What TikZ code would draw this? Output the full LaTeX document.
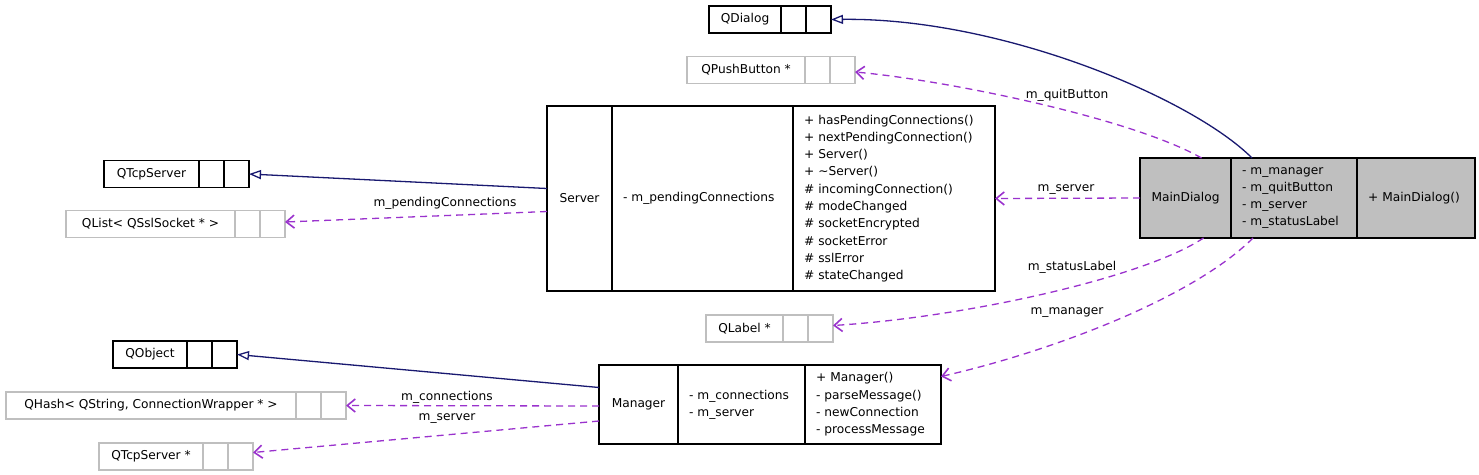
\documentclass[tikz,border=0pt]{standalone}
\usepackage{fontspec}
\setmainfont{DejaVu Sans}
\usetikzlibrary{positioning,arrows.meta}
\definecolor{inheritblue}{HTML}{191970}
\definecolor{usageviolet}{HTML}{9A32CD}
\definecolor{boxgrey}{HTML}{BFBFBF}
\tikzset{
  cell/.style={draw, line width=1.3pt, inner xsep=11pt, inner ysep=0pt, outer sep=0pt, align=left, anchor=west},
  namecell/.style={cell, align=center, inner xsep=0pt},
  extcell/.style={draw=#1, line width=1.3pt, minimum height=27pt, inner sep=0pt, outer sep=0pt, anchor=west},
  inherit/.style={draw=inheritblue, line width=1.3pt, -{Triangle[open, length=12pt, width=9pt]}},
  usage/.style={draw=usageviolet, line width=1.3pt, dash pattern=on 7pt off 5pt, -{Straight Barb[length=8pt, width=13pt, line width=1.6pt]}},
  lbl/.style={inner sep=1pt},
}
\begin{document}
\begin{tikzpicture}[x=1pt,y=-1pt,font=\fontsize{12.2}{17.3}\selectfont]
\useasboundingbox (0,0) rectangle (1479,474);

% external classes: text cell and two empty cells
\foreach \nm/\txt/\x/\y/\w/\col in {
  qdialog/QDialog/709/19.5/72/black,
  qpushbutton/{QPushButton *}/687/70/118/boxgrey,
  qtcpserver/QTcpServer/104/174/95/black,
  qlist/{QList< QSslSocket * >}/66/224/169/boxgrey,
  qlabel/{QLabel *}/706/328.5/77/boxgrey,
  qobject/QObject/113/354.5/74/black,
  qhash/{QHash< QString, ConnectionWrapper * >}/6/405.5/290/boxgrey,
  qtcpptr/{QTcpServer *}/99/456.5/104/boxgrey}
{
  \node[extcell=\col, minimum width=\w pt] (\nm) at (\x,\y) {\txt};
  \node[extcell=\col, minimum width=25pt, right=0pt of \nm] (\nm-a) {};
  \node[extcell=\col, minimum width=25pt, right=0pt of \nm-a] (\nm-b) {};
}

% Server
\node[namecell, minimum width=65pt, minimum height=185pt] (srv) at (547,198.5) {Server};
\node[cell, text width=159pt, minimum height=185pt, right=0pt of srv] (srv-attr) {- m\_pendingConnections};
\node[cell, text width=180pt, minimum height=185pt, right=0pt of srv-attr] (srv-meth)
  {+ hasPendingConnections()\\+ nextPendingConnection()\\+ Server()\\+ \textasciitilde Server()\\%
   \# incomingConnection()\\\# modeChanged\\\# socketEncrypted\\\# socketError\\\# sslError\\\# stateChanged};

% MainDialog
\node[namecell, fill=boxgrey, minimum width=91pt, minimum height=80pt] (md) at (1140,198) {MainDialog};
\node[cell, fill=boxgrey, text width=104pt, minimum height=80pt, right=0pt of md] (md-attr)
  {- m\_manager\\- m\_quitButton\\- m\_server\\- m\_statusLabel};
\node[cell, fill=boxgrey, text width=96pt, minimum height=80pt, right=0pt of md-attr] (md-meth) {+ MainDialog()};

% Manager
\node[namecell, minimum width=79pt, minimum height=79pt] (mgr) at (599,404.5) {Manager};
\node[cell, text width=105pt, minimum height=79pt, right=0pt of mgr] (mgr-attr) {- m\_connections\\- m\_server};
\node[cell, text width=114pt, minimum height=79pt, right=0pt of mgr-attr] (mgr-meth)
  {+ Manager()\\- parseMessage()\\- newConnection\\- processMessage};

% inheritance
\draw[inherit] ([xshift=21pt]md-attr.north west) .. controls +(-60,-60) and +(170,-2) .. (qdialog-b.east);
\draw[inherit] ([yshift=10pt]srv.west) -- (qtcpserver-b.east);
\draw[inherit] ([yshift=17pt]mgr.west) -- (qobject-b.east);

% members
\draw[usage] ([xshift=16pt]md.north) .. controls +(-70,-40) and +(90,8) .. ([yshift=-2pt]qpushbutton-b.east);
\draw[usage] (md.west) -- (srv-meth.east);
\draw[usage] ([xshift=18pt]md.south) .. controls +(-60,40) and +(130,-8) .. ([yshift=3pt]qlabel-b.east);
\draw[usage] ([xshift=22pt]md-attr.south west) .. controls +(-60,60) and +(110,-25) .. ([yshift=28pt]mgr-meth.east);
\draw[usage] ([yshift=-13pt]srv.west) -- ([yshift=2pt]qlist-b.east);
\draw[usage] ([yshift=-1.5pt]mgr.west) -- (qhash-b.east);
\draw[usage] ([yshift=-16.5pt]mgr.west) -- ([yshift=4pt]qtcpptr-b.east);

% member labels
\node[lbl] (l-quit) at (1067,95) {m\_quitButton};
\node[lbl] (l-srv) at (1066,190) {m\_server};
\node[lbl] (l-status) at (1072,267) {m\_statusLabel};
\node[lbl] (l-mgr) at (1067,313) {m\_manager};
\node[lbl] (l-pending) at (445,203) {m\_pendingConnections};
\node[lbl] (l-conn) at (447,397) {m\_connections};
\node[lbl] (l-mserver) at (447,419) {m\_server};
\end{tikzpicture}
\end{document}
